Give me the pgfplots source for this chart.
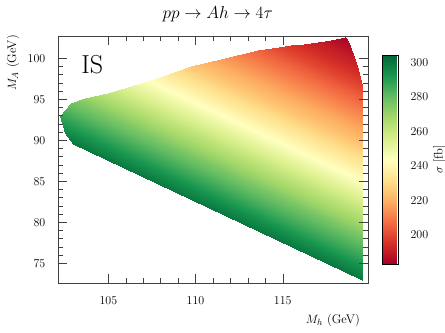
\documentclass[border=0pt]{standalone}
\usepackage{pgfplots}
\pgfplotsset{compat=1.18}
\usepackage{pgfplotstable}

% cross section sigma [fb]; the colour is near constant
% along lines Mh+MA = const, so the region is cut into strips along them.
% each strip: left edge (x1,y1), right edge (x2,y2), next row right, next row left
\pgfplotstableread{
x y c
103.00 89.50 300
119.55 72.95 300
119.55 73.88 296
102.50 90.93 296
102.50 90.93 296
119.55 73.88 296
119.55 75.62 288
102.21 92.96 288
102.21 92.96 288
119.55 75.62 288
119.55 77.92 278
102.88 94.59 278
102.88 94.59 278
119.55 77.92 278
119.55 79.29 271
103.64 95.20 271
103.64 95.20 271
119.55 79.29 271
119.55 81.23 262
104.98 95.80 262
104.98 95.80 262
119.55 81.23 262
119.55 84.36 247
106.89 97.02 247
106.89 97.02 247
119.55 84.36 247
119.55 86.45 237
108.11 97.89 237
108.11 97.89 237
119.55 86.45 237
119.55 89.27 225
109.76 99.06 225
109.76 99.06 225
119.55 89.27 225
119.55 92.19 215
111.67 100.07 215
111.67 100.07 215
119.55 92.19 215
119.55 95.03 205
113.58 101.00 205
113.58 101.00 205
119.55 95.03 205
119.55 96.60 199
114.78 101.37 199
114.78 101.37 199
119.55 96.60 199
119.43 97.64 196
115.49 101.58 196
115.49 101.58 196
119.43 97.64 196
119.31 98.66 193
116.20 101.77 193
116.20 101.77 193
119.31 98.66 193
119.03 100.47 189
117.40 102.10 189
117.40 102.10 189
119.03 100.47 189
118.93 101.10 187
117.77 102.26 187
117.77 102.26 187
118.93 101.10 187
118.72 102.14 185
118.36 102.50 185
118.36 102.50 185
118.72 102.14 185
118.65 102.50 184
118.55 102.60 184
}\sigmatab

\begin{document}
\begin{tikzpicture}
\begin{axis}[
    name=main,
    scale only axis,
    width=309.4pt,
    height=247.3pt,
    xmin=102.13, xmax=119.87,
    ymin=72.56, ymax=102.72,
    xtick={105,110,115},
    ytick={75,80,...,100},
    minor x tick num=4,
    minor y tick num=4,
    tick align=inside,
    xtick pos=both,
    ytick pos=both,
    major tick length=9pt,
    minor tick length=5pt,
    axis line style={black!75},
    tick style={black!75, line width=0.5pt},
    font=\fontsize{12.5}{14}\selectfont,
    xticklabel style={yshift=-9.5pt},
    yticklabel style={xshift=-9.5pt},
    every axis title shift=0pt,
    title={$pp \to Ah \to 4\tau$},
    title style={font=\fontsize{17.5}{19}\selectfont, at={([xshift=4.7pt,yshift=17pt]rel axis cs:0.5,1)}, anchor=base, inner sep=0pt},
    xlabel={$M_h$ (GeV)},
    xlabel style={at={([xshift=-7.7pt,yshift=-36.7pt]rel axis cs:1,0)}, anchor=east, inner sep=0pt},
    ylabel={$M_A$ (GeV)},
    ylabel style={at={([xshift=-45.3pt,yshift=1pt]rel axis cs:0,1)}, anchor=east, inner sep=0pt},
    colormap={RdYlGn}{rgb255=(165,0,38) rgb255=(215,48,39) rgb255=(244,109,67)
        rgb255=(253,174,97) rgb255=(254,224,139) rgb255=(255,255,191)
        rgb255=(217,239,139) rgb255=(166,217,106) rgb255=(102,189,99)
        rgb255=(26,152,80) rgb255=(0,104,55)},
    point meta min=183,
    point meta max=304,
    colorbar,
    colorbar style={
        scale only axis,
        width=16pt,
        height=208.6pt,
        at={(parent axis.east)},
        anchor=west,
        xshift=6.3pt,
        font=\fontsize{12.5}{14}\selectfont,
        ytick={200,220,...,300},
        major tick length=0pt,
        axis line style={black},
        yticklabel style={xshift=8.5pt},
        ylabel={$\sigma$ [fb]},
        ylabel style={at={([xshift=41pt]rel axis cs:1,0.5)}, anchor=center, inner sep=0pt},
    },
    axis on top,
    clip=false,
]
\addplot[patch, patch type=rectangle, shader=interp] table[point meta=\thisrow{c}] {\sigmatab};

\node[anchor=base west, inner sep=0pt, font=\fontsize{26}{28}\selectfont]
    at (rel axis cs:0.074,0.849) {IS};
\end{axis}
\pgfresetboundingbox
\path[use as bounding box] ([shift={(-58.3pt,-48.7pt)}]main.south west)
    rectangle ([shift={(77.3pt,36pt)}]main.north east);
\end{tikzpicture}
\end{document}
